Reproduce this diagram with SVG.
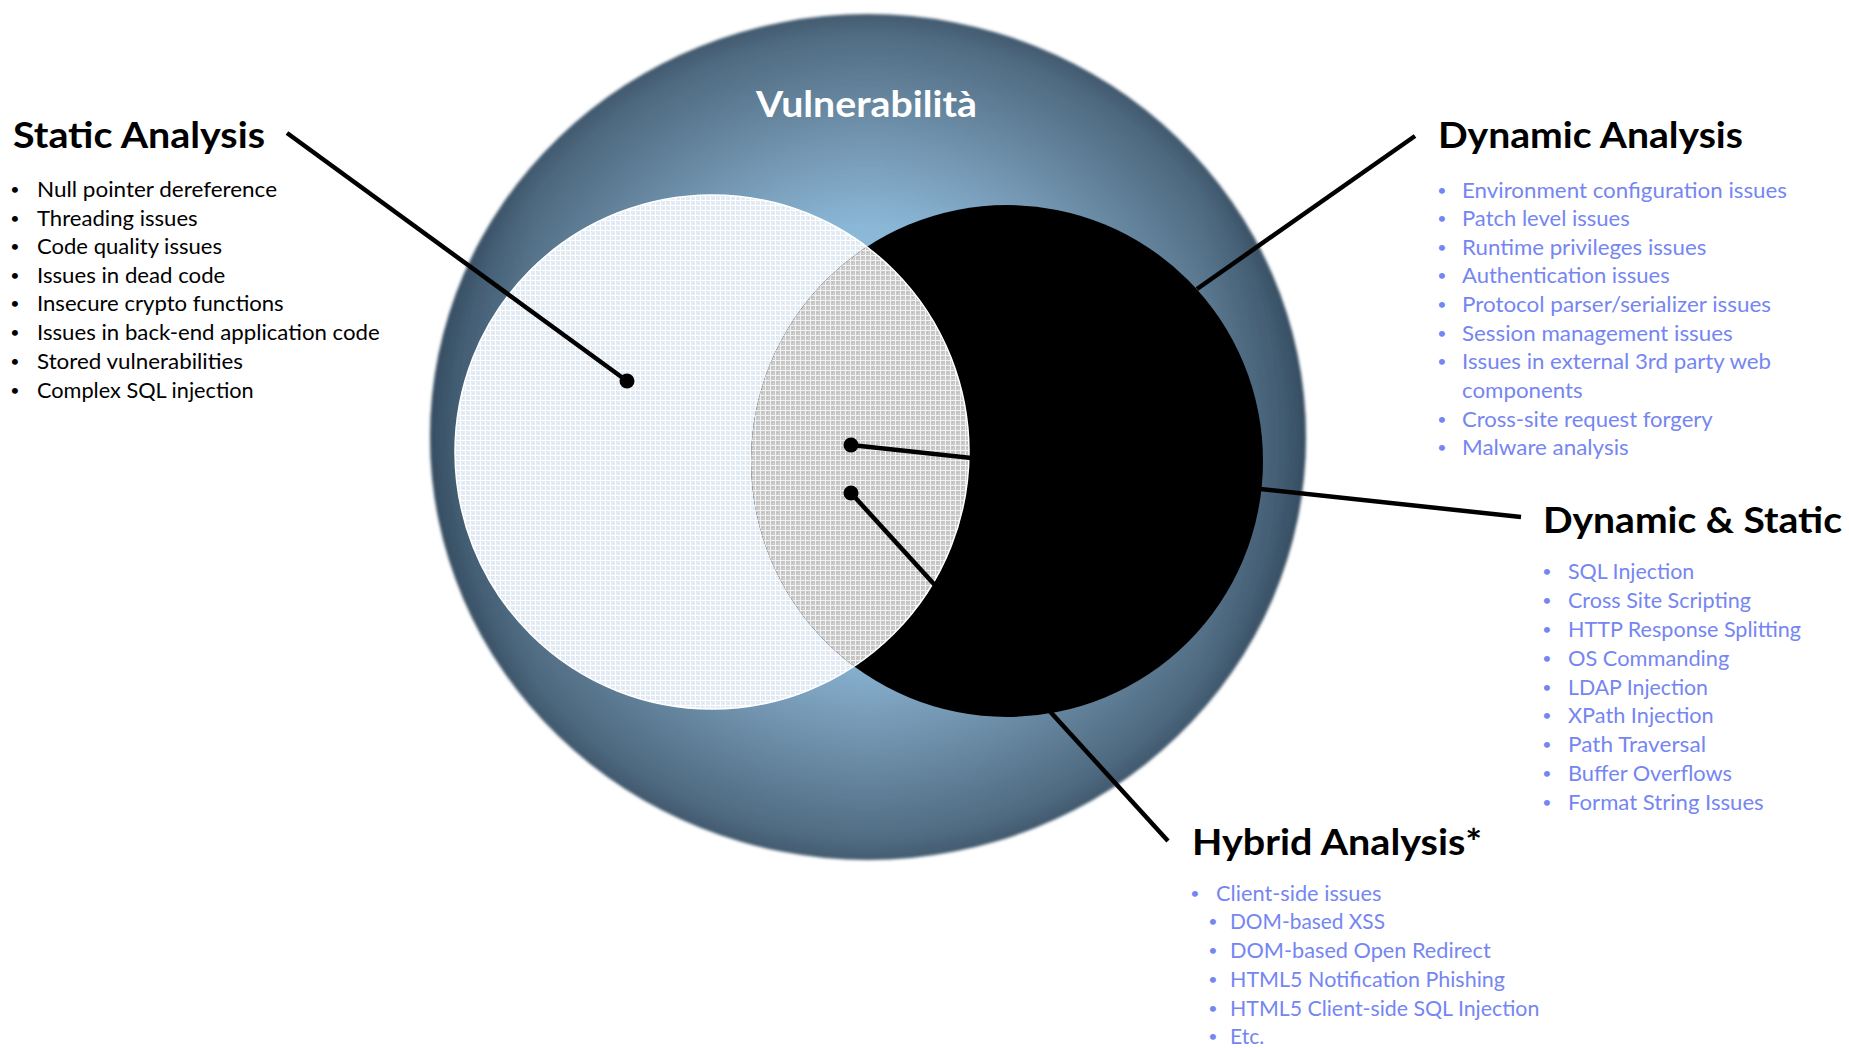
<svg xmlns="http://www.w3.org/2000/svg" width="1849" height="1048" viewBox="0 0 1849 1048">
  <style>
    .h { font-family: Lato, "Liberation Sans", sans-serif; font-weight: 700; font-size: 37px; fill: #000; }
    .t { font-family: Lato, "Liberation Sans", sans-serif; font-size: 22px; fill: #000; }
    .b { fill: #7586f2; }
    .dot { font-family: Lato, "Liberation Sans", sans-serif; font-size: 16px; text-anchor: middle; }
    .title { font-family: Lato, "Liberation Sans", sans-serif; font-weight: 700; font-size: 36px; fill: #fff; }
    .conn line { stroke: #000; stroke-width: 4.5; stroke-linecap: butt; }
    .conn circle { fill: #000; }
  </style>
  <defs>
    <radialGradient id="sphere" cx="0.5" cy="0.5" r="0.5">
      <stop offset="0" stop-color="#a6d2ee"/>
      <stop offset="0.5" stop-color="#8ab7d6"/>
      <stop offset="0.68" stop-color="#7699b5"/>
      <stop offset="0.84" stop-color="#607f97"/>
      <stop offset="0.95" stop-color="#506c83"/>
      <stop offset="1" stop-color="#435b70"/>
    </radialGradient>
    <linearGradient id="sideShade" x1="0" y1="0" x2="1" y2="0">
      <stop offset="0" stop-color="#1e3346" stop-opacity="0.35"/>
      <stop offset="0.12" stop-color="#1e3346" stop-opacity="0.08"/>
      <stop offset="0.5" stop-color="#1e3346" stop-opacity="0"/>
      <stop offset="0.88" stop-color="#1e3346" stop-opacity="0.08"/>
      <stop offset="1" stop-color="#1e3346" stop-opacity="0.35"/>
    </linearGradient>
    <filter id="soft" x="-5%" y="-5%" width="110%" height="110%">
      <feGaussianBlur stdDeviation="1.6"/>
    </filter>
    <pattern id="gridLight" width="5" height="5" patternUnits="userSpaceOnUse">
      <rect width="5" height="5" fill="#e4edf6"/>
      <rect x="1" y="1" width="1" height="1" fill="#d6e0ea"/>
      <rect x="3" y="3" width="1" height="1" fill="#d6e0ea"/>
      <rect width="5" height="1" fill="#ffffff"/>
      <rect width="1" height="5" fill="#ffffff"/>
    </pattern>
    <pattern id="gridGray" width="5" height="5" patternUnits="userSpaceOnUse">
      <rect width="5" height="5" fill="#c8c8c8"/>
      <rect x="2" y="2" width="1" height="1" fill="#b8b8b8"/>
      <rect x="3" y="3" width="1" height="1" fill="#d8d8d8"/>
      <rect width="5" height="1" fill="#f2f2f2"/>
      <rect width="1" height="5" fill="#f2f2f2"/>
    </pattern>
    <clipPath id="darkClip">
      <circle cx="1007" cy="461" r="256"/>
    </clipPath>
  </defs>

  <rect width="1849" height="1048" fill="#ffffff"/>

  <!-- outer sphere: all vulnerabilities -->
  <g id="node-vulnerabilita">
    <g filter="url(#soft)">
      <ellipse cx="868" cy="437" rx="438" ry="423" fill="url(#sphere)"/>
      <ellipse cx="868" cy="437" rx="438" ry="423" fill="url(#sideShade)"/>
    </g>
    <text class="title" x="756" y="117" textLength="221" lengthAdjust="spacingAndGlyphs">Vulnerabilità</text>
  </g>

  <!-- static analysis set -->
  <g id="node-static-set">
    <circle cx="712" cy="452" r="257" fill="url(#gridLight)" stroke="#ffffff" stroke-width="1.5"/>
  </g>

  <!-- dynamic analysis set -->
  <g id="node-dynamic-set">
    <circle cx="1007" cy="461" r="256" fill="#000000"/>
  </g>

  <!-- overlap of both sets -->
  <g id="node-overlap">
    <circle cx="712" cy="452" r="257" fill="url(#gridGray)" stroke="#ffffff" stroke-width="1.5" clip-path="url(#darkClip)"/>
  </g>

  <!-- leader lines -->
  <g id="connectors" class="conn">
    <line x1="287" y1="133" x2="627" y2="381"/>
    <circle cx="627" cy="381" r="7.5"/>
    <line x1="1415" y1="136" x2="1197" y2="289"/>
    <line x1="851" y1="445" x2="1521" y2="517"/>
    <circle cx="851" cy="445" r="7.5"/>
    <line x1="851" y1="493" x2="1168" y2="841"/>
    <circle cx="851" cy="493" r="7.5"/>
  </g>

  <!-- Static Analysis -->
  <g id="node-static-analysis">
    <text class="h" x="13" y="148" textLength="252" lengthAdjust="spacingAndGlyphs">Static Analysis</text>
    <g class="t">
      <text class="dot" x="15" y="195">•</text>
      <text class="dot" x="15" y="223.5">•</text>
      <text class="dot" x="15" y="252">•</text>
      <text class="dot" x="15" y="280.5">•</text>
      <text class="dot" x="15" y="309">•</text>
      <text class="dot" x="15" y="338">•</text>
      <text class="dot" x="15" y="366.5">•</text>
      <text class="dot" x="15" y="395.5">•</text>
      <text x="37" y="197" textLength="240" lengthAdjust="spacingAndGlyphs">Null pointer dereference</text>
      <text x="37" y="225.5" textLength="160.7" lengthAdjust="spacingAndGlyphs">Threading issues</text>
      <text x="37" y="254" textLength="185" lengthAdjust="spacingAndGlyphs">Code quality issues</text>
      <text x="37" y="282.5" textLength="188.3" lengthAdjust="spacingAndGlyphs">Issues in dead code</text>
      <text x="37" y="311" textLength="246.7" lengthAdjust="spacingAndGlyphs">Insecure crypto functions</text>
      <text x="37" y="340" textLength="342.7" lengthAdjust="spacingAndGlyphs">Issues in back-end application code</text>
      <text x="37" y="368.5" textLength="206" lengthAdjust="spacingAndGlyphs">Stored vulnerabilities</text>
      <text x="37" y="397.5" textLength="216.7" lengthAdjust="spacingAndGlyphs">Complex SQL injection</text>
    </g>
  </g>

  <!-- Dynamic Analysis -->
  <g id="node-dynamic-analysis">
    <text class="h" x="1438" y="148" textLength="305" lengthAdjust="spacingAndGlyphs">Dynamic Analysis</text>
    <g class="t b">
      <text class="dot b" x="1442" y="195.7">•</text>
      <text class="dot b" x="1442" y="224">•</text>
      <text class="dot b" x="1442" y="252.7">•</text>
      <text class="dot b" x="1442" y="281.3">•</text>
      <text class="dot b" x="1442" y="310">•</text>
      <text class="dot b" x="1442" y="338.7">•</text>
      <text class="dot b" x="1442" y="367.3">•</text>
      <text class="dot b" x="1442" y="424.7">•</text>
      <text class="dot b" x="1442" y="453.3">•</text>
      <text class="b" x="1462" y="197.7" textLength="325" lengthAdjust="spacingAndGlyphs">Environment configuration issues</text>
      <text class="b" x="1462" y="226" textLength="167.7" lengthAdjust="spacingAndGlyphs">Patch level issues</text>
      <text class="b" x="1462" y="254.7" textLength="244.3" lengthAdjust="spacingAndGlyphs">Runtime privileges issues</text>
      <text class="b" x="1462" y="283.3" textLength="207.7" lengthAdjust="spacingAndGlyphs">Authentication issues</text>
      <text class="b" x="1462" y="312" textLength="309" lengthAdjust="spacingAndGlyphs">Protocol parser/serializer issues</text>
      <text class="b" x="1462" y="340.7" textLength="270.7" lengthAdjust="spacingAndGlyphs">Session management issues</text>
      <text class="b" x="1462" y="369.3" textLength="309" lengthAdjust="spacingAndGlyphs">Issues in external 3rd party web</text>
      <text class="b" x="1462" y="398" textLength="120.7" lengthAdjust="spacingAndGlyphs">components</text>
      <text class="b" x="1462" y="426.7" textLength="250.7" lengthAdjust="spacingAndGlyphs">Cross-site request forgery</text>
      <text class="b" x="1462" y="455.3" textLength="166.7" lengthAdjust="spacingAndGlyphs">Malware analysis</text>
    </g>
  </g>

  <!-- Dynamic & Static -->
  <g id="node-dynamic-static">
    <text class="h" x="1543" y="533" textLength="299" lengthAdjust="spacingAndGlyphs">Dynamic &amp; Static</text>
    <g class="t b">
      <text class="dot b" x="1547" y="577.3">•</text>
      <text class="dot b" x="1547" y="606.3">•</text>
      <text class="dot b" x="1547" y="635.3">•</text>
      <text class="dot b" x="1547" y="664">•</text>
      <text class="dot b" x="1547" y="692.7">•</text>
      <text class="dot b" x="1547" y="721.3">•</text>
      <text class="dot b" x="1547" y="750">•</text>
      <text class="dot b" x="1547" y="779">•</text>
      <text class="dot b" x="1547" y="808">•</text>
      <text class="b" x="1568" y="579.3" textLength="126.3" lengthAdjust="spacingAndGlyphs">SQL Injection</text>
      <text class="b" x="1568" y="608.3" textLength="183" lengthAdjust="spacingAndGlyphs">Cross Site Scripting</text>
      <text class="b" x="1568" y="637.3" textLength="233" lengthAdjust="spacingAndGlyphs">HTTP Response Splitting</text>
      <text class="b" x="1568" y="666" textLength="161.3" lengthAdjust="spacingAndGlyphs">OS Commanding</text>
      <text class="b" x="1568" y="694.7" textLength="140" lengthAdjust="spacingAndGlyphs">LDAP Injection</text>
      <text class="b" x="1568" y="723.3" textLength="145.7" lengthAdjust="spacingAndGlyphs">XPath Injection</text>
      <text class="b" x="1568" y="752" textLength="138" lengthAdjust="spacingAndGlyphs">Path Traversal</text>
      <text class="b" x="1568" y="781" textLength="164" lengthAdjust="spacingAndGlyphs">Buffer Overflows</text>
      <text class="b" x="1568" y="810" textLength="195.7" lengthAdjust="spacingAndGlyphs">Format String Issues</text>
    </g>
  </g>

  <!-- Hybrid Analysis -->
  <g id="node-hybrid-analysis">
    <text class="h" x="1192" y="855" textLength="290" lengthAdjust="spacingAndGlyphs">Hybrid Analysis*</text>
    <g class="t b">
      <text class="dot b" x="1195" y="898.7">•</text>
      <text class="dot b" x="1213" y="927.3">•</text>
      <text class="dot b" x="1213" y="956.3">•</text>
      <text class="dot b" x="1213" y="984.7">•</text>
      <text class="dot b" x="1213" y="1014">•</text>
      <text class="dot b" x="1213" y="1042.3">•</text>
      <text class="b" x="1216" y="900.7" textLength="165.3" lengthAdjust="spacingAndGlyphs">Client-side issues</text>
      <text class="b" x="1230" y="929.3" textLength="155" lengthAdjust="spacingAndGlyphs">DOM-based XSS</text>
      <text class="b" x="1230" y="958.3" textLength="260.7" lengthAdjust="spacingAndGlyphs">DOM-based Open Redirect</text>
      <text class="b" x="1230" y="986.7" textLength="275" lengthAdjust="spacingAndGlyphs">HTML5 Notification Phishing</text>
      <text class="b" x="1230" y="1016" textLength="309.3" lengthAdjust="spacingAndGlyphs">HTML5 Client-side SQL Injection</text>
      <text class="b" x="1230" y="1044.3" textLength="34.3" lengthAdjust="spacingAndGlyphs">Etc.</text>
    </g>
  </g>
</svg>
